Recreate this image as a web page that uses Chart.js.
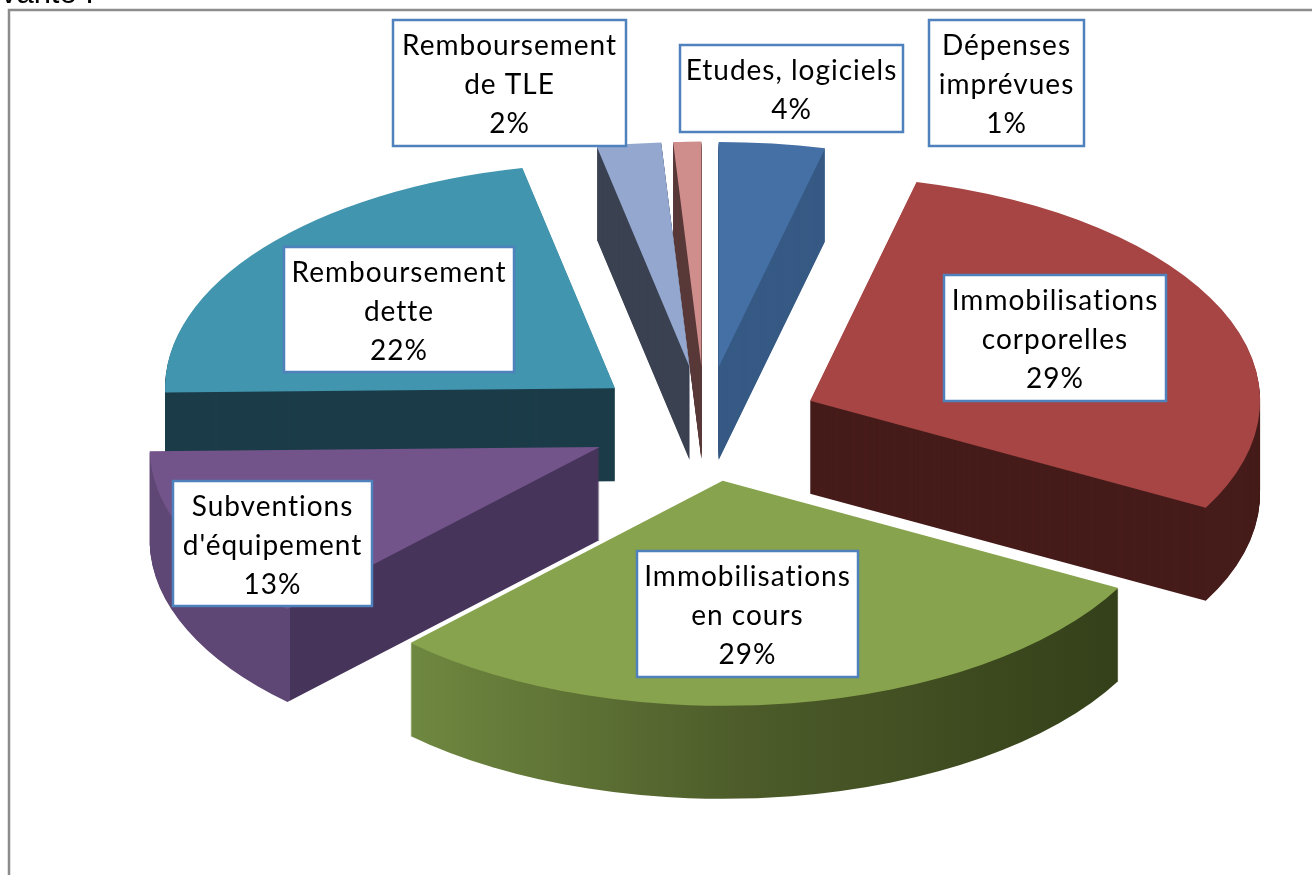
<!DOCTYPE html>
<html lang="fr">
<head>
<meta charset="utf-8">
<title>Répartition des dépenses d'investissement</title>
<script src="https://cdn.jsdelivr.net/npm/chart.js@4/dist/chart.umd.min.js"></script>
<style>
  html, body { margin: 0; padding: 0; background: #fff; overflow: hidden; }
  canvas { display: block; }
</style>
</head>
<body>
<canvas id="pieChart" width="1312" height="875"></canvas>
<script>
// Chart data, clockwise from the top
const categories = [
  ["Etudes, logiciels"],
  ["Immobilisations", "corporelles"],
  ["Immobilisations", "en cours"],
  ["Subventions", "d'équipement"],
  ["Remboursement", "dette"],
  ["Remboursement", "de TLE"],
  ["Dépenses", "imprévues"],
];
// The labels show them rounded
const percentages = [3.8, 29.1, 29.3, 12.5, 22.0, 2.3, 1.0];

// Top face colours
const topColors = ["#4570a5", "#a64543", "#87a34d", "#72548a", "#4195ae", "#93a7cf", "#cf8e8c"];

// Side colours: [screen x, colour] stops, a single stop is a flat colour
const sideColors = [
  [[0, "#365a84"]],
  [[0, "#461c1a"]],
  [[410, "#6f8840"], [740, "#4d5c2a"], [1115, "#344019"]],
  [[150, "#5f4775"], [289.5, "#5f4775"], [290, "#46345a"], [600, "#46345a"]],
  [[0, "#1b3c48"]],
  [[0, "#3b4252"]],
  [[0, "#5a3a3a"]],
];

// Label boxes: left, top, right, bottom
const labelBoxes = [
  [680, 45, 903, 132],
  [944, 275, 1166, 401],
  [637, 551, 858, 677],
  [173, 481, 372, 606],
  [284, 247, 514, 372],
  [393, 20, 626, 146],
  [929, 20, 1084, 146],
];

const TILT = 0.5; // vertical squash of the pie
const DEPTH = 93; // thickness in pixels
const EXPLODE = 115; // distance of each slice from the centre
const LINE_HEIGHT = 39;

// Position of a slice once exploded and squashed
function sliceShift(arc) {
  const mid = (arc.startAngle + arc.endAngle) / 2;
  return { x: Math.cos(mid) * EXPLODE, y: Math.sin(mid) * EXPLODE * TILT };
}

// Draws one arc element at the given vertical drop with the given fill
function drawArcAt(ctx, arc, shift, drop, fill) {
  const options = arc.options;
  ctx.save();
  ctx.translate(arc.x + shift.x, arc.y + shift.y + drop);
  ctx.scale(1, TILT);
  ctx.translate(-arc.x, -arc.y);
  arc.options = Object.assign({}, options, { backgroundColor: fill });
  arc.draw(ctx);
  arc.options = options;
  ctx.restore();
}

function sideFill(ctx, stops, shift) {
  if (stops.length === 1) {
    return stops[0][1];
  }
  const first = stops[0][0];
  const last = stops[stops.length - 1][0];
  const gradient = ctx.createLinearGradient(first - shift.x, 0, last - shift.x, 0);
  stops.forEach(function (stop) {
    gradient.addColorStop((stop[0] - first) / (last - first), stop[1]);
  });
  return gradient;
}

// Replaces the flat pie with a thick, tilted one, back slices first
const tiltedPie = {
  id: "tiltedPie",
  beforeDatasetsDraw(chart) {
    const ctx = chart.ctx;
    const arcs = chart.getDatasetMeta(0).data.map(function (arc, index) {
      return { arc: arc, index: index, shift: sliceShift(arc) };
    });
    arcs.sort((a, b) => a.shift.y - b.shift.y);
    arcs.forEach(function (item) {
      const fill = sideFill(ctx, sideColors[item.index], item.shift);
      for (let drop = DEPTH; drop > 0; drop--) {
        drawArcAt(ctx, item.arc, item.shift, drop, fill);
      }
      drawArcAt(ctx, item.arc, item.shift, 0, topColors[item.index]);
    });
    return false;
  },
};

// Page frame and the cropped line of text above it
const pageFrame = {
  id: "pageFrame",
  beforeDraw(chart) {
    const ctx = chart.ctx;
    ctx.save();
    ctx.fillStyle = "#000";
    ctx.font = "31px 'Liberation Sans'";
    ctx.textAlign = "left";
    ctx.textBaseline = "alphabetic";
    ctx.fillText("ivante :", -6, 3);
    ctx.strokeStyle = "#8c8c8c";
    ctx.lineWidth = 2.5;
    ctx.beginPath();
    ctx.moveTo(9, 875);
    ctx.lineTo(9, 10);
    ctx.lineTo(1312, 10);
    ctx.stroke();
    ctx.restore();
  },
};

// White boxed labels with the category and its percentage
const boxedLabels = {
  id: "boxedLabels",
  afterDraw(chart) {
    const ctx = chart.ctx;
    ctx.save();
    ctx.textAlign = "center";
    ctx.textBaseline = "middle";
    ctx.font = "28px Lato";
    ctx.letterSpacing = "1px";
    categories.forEach(function (lines, index) {
      const box = labelBoxes[index];
      ctx.fillStyle = "#fff";
      ctx.fillRect(box[0], box[1], box[2] - box[0], box[3] - box[1]);
      ctx.strokeStyle = "#4f81bd";
      ctx.lineWidth = 2.5;
      ctx.strokeRect(box[0], box[1], box[2] - box[0], box[3] - box[1]);
      const text = lines.concat(Math.round(percentages[index]) + "%");
      const centerX = (box[0] + box[2]) / 2;
      const centerY = (box[1] + box[3]) / 2 + 2;
      ctx.fillStyle = "#000";
      text.forEach(function (line, row) {
        ctx.fillText(line, centerX, centerY + (row - (text.length - 1) / 2) * LINE_HEIGHT);
      });
    });
    ctx.restore();
  },
};

new Chart(document.getElementById("pieChart"), {
  type: "pie",
  data: {
    labels: categories,
    datasets: [
      {
        data: percentages,
        backgroundColor: topColors,
        borderWidth: 0,
        radius: 450,
      },
    ],
  },
  options: {
    responsive: false,
    animation: false,
    layout: { padding: { left: 98, bottom: 27 } },
    plugins: {
      legend: { display: false },
      tooltip: { enabled: false },
    },
  },
  plugins: [pageFrame, tiltedPie, boxedLabels],
});
</script>
</body>
</html>
